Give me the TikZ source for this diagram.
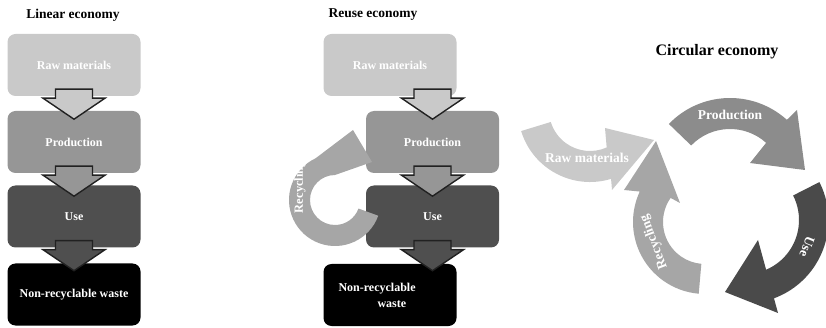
\documentclass[tikz,border=0pt]{standalone}
\usepackage{fontspec}
\setmainfont{Liberation Serif}
\usetikzlibrary{calc}
\definecolor{cLight}{gray}{0.79}
\definecolor{cMid}{gray}{0.59}
\definecolor{cDark}{gray}{0.31}
\definecolor{cRing}{gray}{0.65}
\definecolor{cProd}{gray}{0.55}
\definecolor{cUseArr}{gray}{0.29}
\definecolor{cRec}{gray}{0.65}
\definecolor{cRaw}{gray}{0.79}
\definecolor{arrowline}{gray}{0.13}
\newcommand\blockarrow[2]{%
  \filldraw[fill=#2, draw=arrowline, line width=1.4pt, line join=miter]
    ($(#1)+(-18.5,0)$) -- ++(37,0) -- ++(0,9) -- ++(12.5,0) -- ($(#1)+(0,30)$)
    -- ($(#1)+(-31,9)$) -- ++(12.5,0) -- cycle;}
\begin{document}
\begin{tikzpicture}[x=1pt,y=-1pt,
  box/.style={rounded corners=8pt, minimum width=133pt, minimum height=62pt,
    inner sep=0pt, text=white, font=\fontsize{12}{14}\selectfont\bfseries},
  title/.style={font=\fontsize{13.5}{16}\selectfont\bfseries, text=black},
  ctext/.style={text=white, font=\fontsize{13.5}{16}\selectfont\bfseries, inner sep=0pt}]
\useasboundingbox (0,0) rectangle (826,328);

% ---------- Linear economy ----------
\node[title] (tlin) at (73,15) {Linear economy};
\node[box, fill=cLight] (lb1) at (74,65) {Raw materials};
\node[box, fill=cMid] (lb2) at (74,142) {Production};
\node[box, fill=cDark] (lb3) at (74,216.5) {Use};
\node[box, fill=black] (lb4) at (74,294.5) {Non-recyclable waste};
\coordinate (la1) at ($(lb1.south)+(0,-7)$);
\coordinate (la2) at ($(lb2.south)+(0,-7)$);
\coordinate (la3) at ($(lb3.south)+(0,-7)$);
\blockarrow{la1}{cLight}
\blockarrow{la2}{cMid}
\blockarrow{la3}{cDark}

% ---------- Reuse economy ----------
\node[title] (treu) at (373,15) {Reuse economy};
\node[box, fill=cLight] (rb1) at (390,65) {Raw materials};
\node[box, fill=cMid] (rb2) at (432.5,142) {Production};
\node[box, fill=cDark] (rb3) at (432.5,216.5) {Use};
\node[box, fill=black] (rb4) at (390,295) {};
\node[anchor=west, align=left, text=white, inner sep=0pt,
  font=\fontsize{12}{16}\selectfont\bfseries] (rb4t) at ($(rb4.west)+(15,0)$)
  {Non-recyclable\\\hspace*{39pt}waste};
\coordinate (ra1) at ($(rb2.north |- rb1.south)+(0,-7)$);
\coordinate (ra2) at ($(rb2.south)+(0,-7)$);
\coordinate (ra3) at ($(rb3.south)+(0,-7)$);
\blockarrow{ra1}{cLight}
\blockarrow{ra2}{cMid}
\blockarrow{ra3}{cDark}
% recycling ring
\coordinate (rc) at (335,200);
\fill[cRing] ($(rc)+(20:46)$) arc[start angle=20, end angle=245, radius=46]
  -- (353,130) -- (372,162) -- ($(rc)+(270:25)$)
  arc[start angle=270, end angle=20, radius=25] -- cycle;
\node[ctext, rotate=90, font=\fontsize{12.5}{15}\selectfont\bfseries] (rrec) at (300,187) {Recycling};

% ---------- Circular economy ----------
\node[title, font=\fontsize{16}{19}\selectfont\bfseries] (tcir) at (717,52) {Circular economy};
\coordinate (pc) at (730,183);
\fill[cProd] ($(pc)+(-136:85)$) arc[start angle=-136, end angle=-48, radius=85]
  -- (797,110) -- (805,170) -- (750,163) -- ($(pc)+(-48:54)$)
  arc[start angle=-48, end angle=-136, radius=54] -- cycle;
\coordinate (uc) at (745,220);
\fill[cUseArr] ($(uc)+(-27:83.5)$) arc[start angle=-27, end angle=69.7, radius=83.5]
  -- (778,313) -- (725,292) -- (758,240) -- ($(uc)+(67:54)$)
  arc[start angle=67, end angle=-27, radius=54] -- cycle;
\coordinate (yc) at (705,222);
\fill[cRec] ($(yc)+(95:72)$) arc[start angle=95, end angle=205, radius=72]
  -- (624,190) -- (656,141) -- (680,203) -- ($(yc)+(215:42)$)
  arc[start angle=215, end angle=95, radius=42] -- cycle;
\coordinate (wc) at (590,110);
\fill[cRaw] ($(wc)+(163:72)$) arc[start angle=163, end angle=73, radius=72]
  -- (612,190) -- (654,140) -- (605,128) -- ($(wc)+(66:41)$)
  arc[start angle=66, end angle=163, radius=41] -- cycle;
\node[ctext] (cprod) at (730,115) {Production};
\node[ctext, rotate=-112] (cuse) at (807,247) {Use};
\node[ctext, rotate=111] (crec) at (654,242) {Recycling};
\node[ctext] (craw) at (587,158) {Raw materials};
\end{tikzpicture}
\end{document}
